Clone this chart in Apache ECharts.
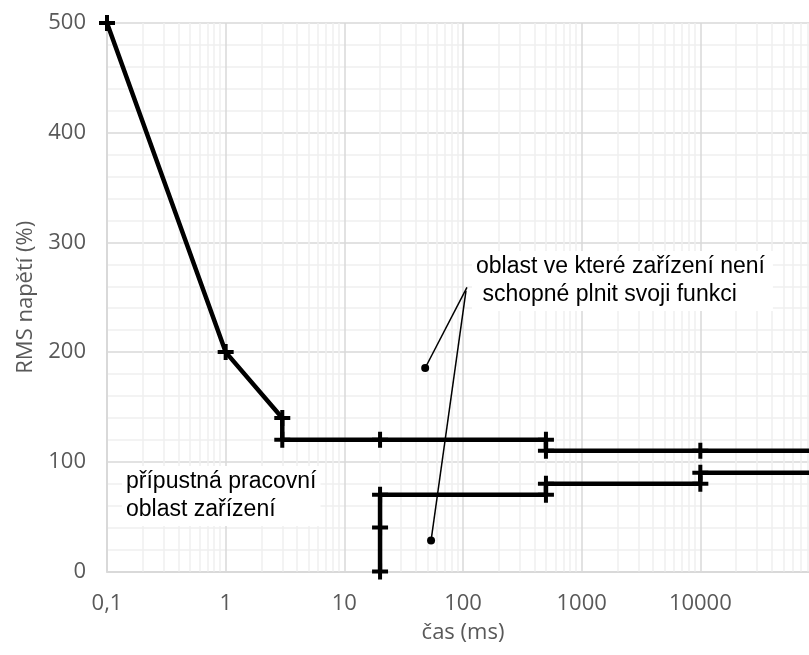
<!DOCTYPE html>
<html>
<head>
<meta charset="utf-8">
<script src="https://cdn.jsdelivr.net/npm/echarts@6/dist/echarts.min.js"></script>
<style>html,body{margin:0;padding:0;background:#fff}#c{width:809px;height:655px}</style>
</head>
<body>
<div id="c"></div>
<script>
// Upper limit curve (time ms, RMS %)
const upperTime = [0.1, 1, 3, 3, 20, 500, 500, 10000, 100000];
const upperRms  = [500, 200, 140, 120, 120, 120, 110, 110, 110];
const upperMarked = [true, true, true, true, true, true, true, true, false];
// Lower limit curve
const lowerTime = [20, 20, 20, 500, 500, 10000, 10000, 100000];
const lowerRms  = [0, 40, 70, 70, 80, 80, 90, 90];
const lowerMarked = [true, true, true, true, true, true, true, false];
// Annotation leaders: [start, end]
const leader1 = [[108, 259], [48, 185.5]];
const leader2 = [[106, 256], [53.8, 28.2]];
const leaderDots = [[48, 185.5], [53.8, 28.2]];
// Axis settings
const xMin = 0.1, xMax = 100000;
const yMin = 0, yMax = 500, yStep = 100;
const xTitle = 'čas (ms)';
const yTitle = 'RMS napětí (%)';
const text1 = ['oblast ve které zařízení není', ' schopné plnit svoji funkci'];
const text2 = ['přípustná pracovní', 'oblast zařízení'];

const minorX = [];
for (let e = -1; e <= 4; e++) for (let k = 2; k <= 9; k++) minorX.push(+(k * Math.pow(10, e)).toPrecision(3));

const plus = 'path://M0,6H16V10H0Z M6,0H10V16H6Z';
function pts(t, v, m) {
  return t.map((x, i) => ({ value: [x, v[i]], symbol: m[i] ? plus : 'none' }));
}

const chart = echarts.init(document.getElementById('c'), null, { renderer: 'canvas' });
const AX = '#595959';
const FONT = '"Open Sans", sans-serif';
const TFONT = '23px "Liberation Sans", Arial, sans-serif';
chart.setOption({
  animation: false,
  backgroundColor: '#fff',
  grid: { left: 107, top: 23, width: 712, height: 548.5, containLabel: false, outerBoundsMode: 'none' },
  xAxis: {
    type: 'log', logBase: 10, min: xMin, max: xMax,
    name: xTitle, nameLocation: 'middle', nameGap: 50,
    nameTextStyle: { color: AX, fontSize: 22, fontFamily: FONT },
    axisLine: { show: true, lineStyle: { color: '#d9d9d9', width: 2 } },
    axisTick: { show: false },
    axisLabel: { color: AX, fontSize: 22, fontFamily: FONT, margin: 21, showMaxLabel: false,
      formatter: v => (v >= 100000 ? '' : String(+v.toPrecision(6)).replace('.', ',')) },
    splitLine: { show: true, lineStyle: { color: '#d9d9d9', width: 1.5 } }
  },
  yAxis: {
    type: 'value', min: yMin, max: yMax, interval: yStep,
    name: yTitle, nameLocation: 'middle', nameGap: 70,
    nameTextStyle: { color: AX, fontSize: 22, fontFamily: FONT },
    axisLine: { show: true, lineStyle: { color: '#d9d9d9', width: 2 } },
    axisTick: { show: false },
    axisLabel: { color: AX, fontSize: 22, fontFamily: FONT, margin: 21 },
    splitLine: { show: true, lineStyle: { color: '#d9d9d9', width: 1.5 } },
    minorTick: { show: false, splitNumber: 5 },
    minorSplitLine: { show: true, lineStyle: { color: '#efefef', width: 1.5 } }
  },
  series: [
    {
      type: 'line', data: [], silent: true,
      markLine: {
        silent: true, symbol: ['none', 'none'], label: { show: false },
        lineStyle: { color: '#efefef', width: 1.5, type: 'solid' },
        data: minorX.map(v => ({ xAxis: v }))
      },
      z: 1
    },
    {
      type: 'line', data: pts(upperTime, upperRms, upperMarked),
      symbolSize: 16, lineStyle: { color: '#000', width: 4.5 },
      itemStyle: { color: '#000' }, z: 5
    },
    {
      type: 'line', data: pts(lowerTime, lowerRms, lowerMarked),
      symbolSize: 16, lineStyle: { color: '#000', width: 4.5 },
      itemStyle: { color: '#000' }, z: 5
    },
    { type: 'line', data: leader1, symbol: 'none', lineStyle: { color: '#000', width: 1.5 }, z: 6 },
    { type: 'line', data: leader2, symbol: 'none', lineStyle: { color: '#000', width: 1.5 }, z: 6 },
    { type: 'scatter', data: leaderDots, symbol: 'circle', symbolSize: 8, itemStyle: { color: '#000', opacity: 1 }, z: 7 }
  ],
  graphic: {
    elements: [
      { type: 'text', z: 10, x: 472, y: 251, style: { text: text1.join('\n'), fill: '#000', font: TFONT, lineHeight: 28,
        backgroundColor: '#fff', padding: [2, 8, 2, 4] } },
      { type: 'text', z: 10, x: 122, y: 466, style: { text: text2.join('\n'), fill: '#000', font: TFONT, lineHeight: 28,
        backgroundColor: '#fff', padding: [2, 4, 2, 4] } }
    ]
  }
});
</script>
</body>
</html>
